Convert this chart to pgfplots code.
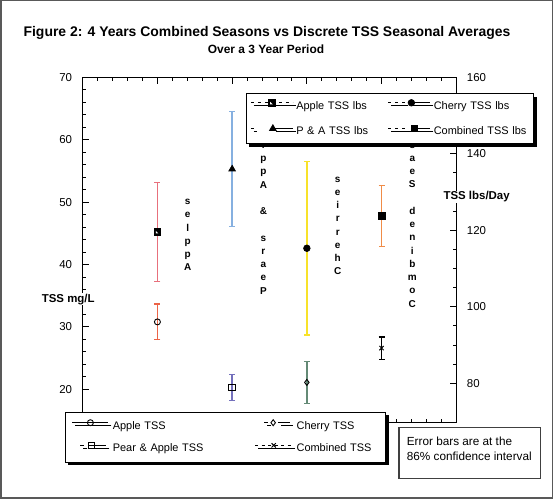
\documentclass[border=0pt]{standalone}
\usepackage{fontspec}
\setmainfont{Liberation Sans}
\usepackage{pgfplots}
\pgfplotsset{compat=1.18}
\usetikzlibrary{shadows}

\definecolor{aplbs}{HTML}{E8707C}
\definecolor{apTSS}{HTML}{EC6447}
\definecolor{palbs}{HTML}{86B0E0}
\definecolor{paTSS}{HTML}{7470BC}
\definecolor{chlbs}{HTML}{F8E22A}
\definecolor{chTSS}{HTML}{648A76}
\definecolor{colbs}{HTML}{F08C48}
\definecolor{coTSS}{HTML}{000000}

\pgfdeclareplotmark{halfsq}{%
  \pgfpathrectangle{\pgfpoint{-\pgfplotmarksize}{-\pgfplotmarksize}}{\pgfpoint{2\pgfplotmarksize}{2\pgfplotmarksize}}%
  \pgfsetfillcolor{black}\pgfusepathqfillstroke
  \pgfpathmoveto{\pgfpoint{-0.5\pgfplotmarksize}{-0.5\pgfplotmarksize}}%
  \pgfpathlineto{\pgfpoint{0.3\pgfplotmarksize}{-0.5\pgfplotmarksize}}%
  \pgfpathlineto{\pgfpoint{-0.5\pgfplotmarksize}{0.3\pgfplotmarksize}}%
  \pgfpathclose
  \pgfsetfillcolor{white}\pgfusepathqfill
}

\def\ly{3.8bp}
\pgfplotsset{
  legApple/.style={legend image code/.code={\draw[black,line width=0.8bp] (0bp,\ly) -- (36bp,\ly); \draw[##1] plot coordinates {(18bp,\ly)};}},
  legCherry/.style={legend image code/.code={\draw[black,line width=0.8bp] (9bp,\ly) -- (13bp,\ly); \draw[black,line width=0.8bp] (23bp,\ly) -- (35bp,\ly); \draw[##1] plot coordinates {(18bp,\ly)};}},
  legPA/.style={legend image code/.code={\draw[black,line width=0.8bp] (8bp,\ly) -- (12bp,\ly); \draw[black,line width=0.8bp] (16bp,\ly) -- (34bp,\ly); \draw[##1] plot coordinates {(19bp,\ly)};}},
  legComb/.style={legend image code/.code={\draw[black,line width=0.8bp,dash pattern=on 3bp off 3.5bp] (0bp,\ly) -- (37bp,\ly); \draw[##1] plot coordinates {(18.5bp,\ly)};}},
  legAppleL/.style={legend image code/.code={\draw[black,line width=0.8bp,dash pattern=on 3bp off 4bp] (0bp,\ly) -- (42bp,\ly); \draw[##1] plot coordinates {(21bp,\ly)};}},
  legCherryL/.style={legend image code/.code={\draw[black,line width=0.8bp,dash pattern=on 3bp off 4bp] (0bp,\ly) -- (17bp,\ly); \draw[black,line width=0.8bp] (20bp,\ly) -- (42bp,\ly); \draw[##1] plot coordinates {(23bp,\ly)};}},
  legPAL/.style={legend image code/.code={\draw[black,line width=0.8bp] (0bp,\ly) -- (3bp,\ly); \draw[black,line width=0.8bp] (22bp,\ly) -- (42bp,\ly); \draw[##1] plot coordinates {(22bp,\ly)};}},
  legCombL/.style={legend image code/.code={\draw[black,line width=0.8bp,dash pattern=on 3bp off 4bp] (0bp,\ly) -- (20bp,\ly); \draw[black,line width=0.8bp] (25bp,\ly) -- (42bp,\ly); \draw[##1] plot coordinates {(26bp,\ly)};}},
  ebar/.style={error bars/.cd, y dir=both, y explicit,
    error bar style={draw=#1, color=#1, line width=1.4bp, solid},
    error mark options={rotate=90, draw=#1, mark size=3bp, line width=1.3bp, solid}},
}

\newcommand{\tickfont}{\fontsize{11.5}{13}\selectfont}
\newcommand{\legfont}{\fontsize{11}{13}\selectfont}

\begin{document}
\begin{tikzpicture}[x=1bp,y=1bp]
\path (0,0) rectangle (553,499);
\draw[draw=black!65, line width=1.5bp] (0.75,0.75) rectangle (552.25,498.25);
\node[font=\bfseries\fontsize{14}{16}\selectfont] at (267,465.7) {Figure 2: 4 Years Combined Seasons vs Discrete TSS Seasonal Averages};
\node[font=\bfseries\fontsize{12}{14}\selectfont] at (266,449.7) {Over a 3 Year Period};

% ---------------- left axis (TSS mg/L) ----------------
\begin{axis}[
  at={(82.7bp,76.7bp)}, anchor=south west, scale only axis,
  width=373.6bp, height=345bp,
  xmin=0, xmax=5, ymin=14.71, ymax=70,
  xtick={0,1,2,3,4,5}, xticklabels={}, minor x tick num=4,
  ytick={20,30,40,50,60,70}, minor y tick num=4,
  ytick pos=left, xtick pos=both,
  tick align=inside, major tick length=6.5bp, minor tick length=3.3bp,
  axis line style={line width=1.2bp},
  every tick/.style={black, line width=0.9bp},
  /pgf/number format/assume math mode=true,
  yticklabel style={font=\tickfont, inner sep=0pt, xshift=-10.4bp},
  ylabel={TSS mg/L},
  every axis y label/.style={at={(axis description cs:-0.1116,0.357)}, anchor=west, font=\bfseries\tickfont, fill=white, inner sep=0.6bp},
  clip=false,
  legend columns=2, legend cell align=left,
  legend style={at={(axis description cs:-0.0487,0.0307)}, anchor=north west,
    draw=black, line width=1bp, fill=white, font=\legfont,
    inner xsep=7bp, inner ysep=7.5bp,
    drop shadow={shadow xshift=3bp, shadow yshift=-3bp, fill=black, opacity=1},
    /tikz/column sep=4bp, /tikz/row sep=10bp,
    nodes={inner sep=0pt, text height=8bp, text depth=3bp},
    /tikz/column 2/.style={nodes={text width=138bp}},
    /tikz/column 4/.style={nodes={text width=82bp}}},
]
\node[font=\bfseries\fontsize{10}{13.3}\selectfont, align=center, inner sep=0pt] at (axis cs:1.405,44.73) {s\\e\\l\\p\\p\\A};
\node[font=\bfseries\fontsize{10}{13.3}\selectfont, align=center, inner sep=0pt] at (axis cs:2.418,49.5) {s\\e\\l\\p\\p\\A\\~\\\&\\~\\s\\r\\a\\e\\P};
\node[font=\bfseries\fontsize{10}{13.3}\selectfont, align=center, inner sep=0pt] at (axis cs:3.413,46.2) {s\\e\\i\\r\\r\\e\\h\\C};
\node[font=\bfseries\fontsize{10}{13.3}\selectfont, align=center, inner sep=0pt] at (axis cs:4.411,49.5) {s\\n\\o\\s\\a\\e\\S\\~\\d\\e\\n\\i\\b\\m\\o\\C};

\addplot[black, line width=0.7bp, mark=o, mark size=3bp, mark options={solid, line width=0.9bp}, legApple, ebar=apTSS]
  coordinates {(1,30.8) +- (0,2.85)};
\addlegendentry{Apple TSS}

\addplot[black, line width=0.7bp, mark=diamond, mark size=3bp, mark options={solid, line width=0.9bp}, legCherry, ebar=chTSS]
  coordinates {(3,21.1) +- (0,3.35)};
\addlegendentry{Cherry TSS}

\addplot[black, line width=0.7bp, mark=square, mark size=3.3bp, mark options={solid, line width=0.9bp}, legPA, ebar=paTSS]
  coordinates {(2,20.3) +- (0,2.05)};
\addlegendentry{Pear \& Apple TSS}

\addplot[black, line width=0.7bp, mark=x, mark size=3bp, mark options={solid, line width=1bp}, legComb, ebar=coTSS]
  coordinates {(4,26.6) +- (0,1.8)};
\addlegendentry{Combined TSS}
\end{axis}

% ---------------- right axis (TSS lbs/Day) ----------------
\begin{axis}[
  at={(82.7bp,76.7bp)}, anchor=south west, scale only axis,
  width=373.6bp, height=345bp,
  xmin=0, xmax=5, ymin=69.8, ymax=160,
  xtick=\empty,
  ytick={80,100,120,140,160}, minor y tick num=3,
  ytick pos=right,
  tick align=inside, major tick length=6.5bp, minor tick length=3.3bp,
  axis line style={draw=none},
  every tick/.style={black, line width=0.9bp},
  /pgf/number format/assume math mode=true,
  yticklabel style={font=\tickfont, inner sep=0pt, xshift=10.4bp},
  ylabel={TSS lbs/Day},
  every axis y label/.style={at={(axis description cs:0.9636,0.654)}, anchor=west, font=\bfseries\tickfont, fill=white, inner sep=0.6bp},
  clip=false,
  legend columns=2, legend cell align=left,
  legend style={at={(axis description cs:0.437,0.9536)}, anchor=north west,
    draw=black, line width=1bp, fill=white, font=\legfont,
    inner xsep=4bp, inner ysep=5.7bp,
    drop shadow={shadow xshift=3bp, shadow yshift=-3bp, fill=black, opacity=1},
    /tikz/column sep=3bp, /tikz/row sep=12.6bp,
    nodes={inner sep=0pt, text height=8bp, text depth=3bp},
    /tikz/column 2/.style={nodes={text width=88.7bp}},
    /tikz/column 4/.style={nodes={text width=96bp}}},
]
\addplot[black, line width=0.7bp, mark=halfsq, mark size=3.3bp, mark options={solid, line width=0.6bp}, legAppleL, ebar=aplbs]
  coordinates {(1,119.6) +- (0,12.9)};
\addlegendentry{Apple TSS lbs}

\addplot[black, line width=0.7bp, mark=*, mark size=3.3bp, mark options={solid, fill=black}, legCherryL, ebar=chlbs]
  coordinates {(3,115.3) +- (0,22.65)};
\addlegendentry{Cherry TSS lbs}

\addplot[black, line width=0.7bp, mark=triangle*, mark size=3.8bp, mark options={solid, fill=black}, legPAL, ebar=palbs]
  coordinates {(2,136.0) +- (0,15.1)};
\addlegendentry{P \& A TSS lbs}

\addplot[black, line width=0.7bp, mark=square*, mark size=3.3bp, mark options={solid, fill=black}, legCombL, ebar=colbs]
  coordinates {(4,123.8) +- (0,8)};
\addlegendentry{Combined TSS lbs}
\end{axis}

\draw[draw=black!75, line width=1.2bp] (399,71.3) rectangle (540.7,20.7);
\node[anchor=base west, inner sep=0pt, font=\fontsize{11.8}{14.3}\selectfont] at (406.7,53.1) {Error bars are at the};
\node[anchor=base west, inner sep=0pt, font=\fontsize{11.8}{14.3}\selectfont] at (406.7,38.8) {86\% confidence interval};
\end{tikzpicture}
\end{document}
